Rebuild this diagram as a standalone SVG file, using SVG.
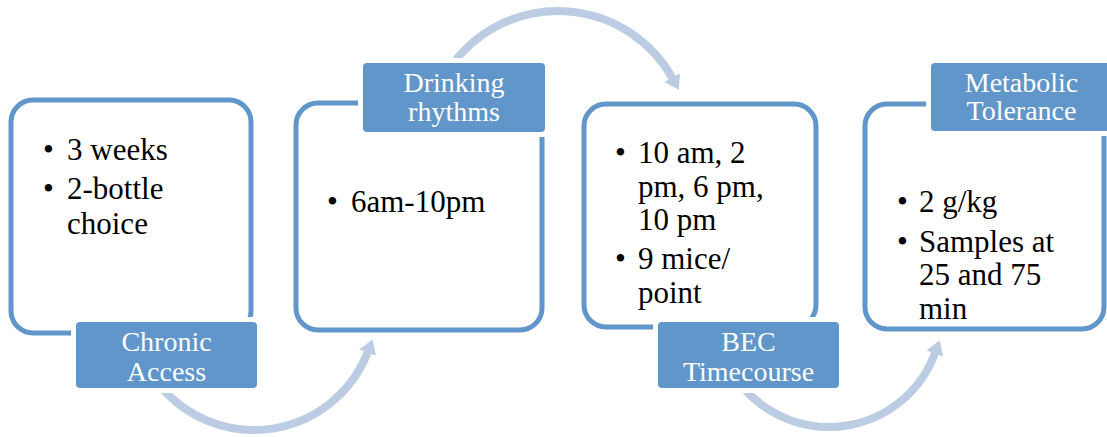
<svg xmlns="http://www.w3.org/2000/svg" width="1107" height="437" viewBox="0 0 1107 437">
<style>
.box{fill:#fff;stroke:#6196CA;stroke-width:5}
.lblbg{fill:#fff}
.lbl{fill:#6196CA}
.lt{font-family:'Liberation Serif','Times New Roman',serif;font-size:28px;fill:#fff;text-anchor:middle}
.bt{font-family:'Liberation Serif','Times New Roman',serif;font-size:31px;fill:#000}
.arc{fill:none;stroke:#BCCCE3;stroke-width:8;marker-end:url(#ah)}
</style>
<defs>
<marker id="ah" viewBox="0 -10 15 20" markerWidth="15" markerHeight="20" refX="1" refY="0" orient="auto" markerUnits="userSpaceOnUse">
<path d="M0,-9 L14,0 L0,9 z" fill="#BCCCE3"/>
</marker>
</defs>
<g id="connectors">
<path class="arc" d="M160.5,386.4 A122,122 0 0 0 367.9,351.7"/>
<path class="arc" d="M450.7,66.9 A131,131 0 0 1 672.6,78.5"/>
<path class="arc" d="M742.4,386.6 A113,113 0 0 0 935.2,352.6"/>
</g>
<g id="chronic-access">
<rect class="box" x="11" y="100" width="240" height="233" rx="22"/>
<rect class="lblbg" x="71" y="317" width="191" height="76" rx="6"/>
<rect class="lbl" x="76" y="322" width="181" height="66" rx="4"/>
<text class="lt" x="166.5" y="351">Chronic</text>
<text class="lt" x="166.5" y="381">Access</text>
<text class="bt" x="43" y="160">•</text>
<text class="bt" x="67" y="160">3 weeks</text>
<text class="bt" x="43" y="199">•</text>
<text class="bt" x="67" y="199">2-bottle</text>
<text class="bt" x="67" y="234">choice</text>
</g>
<g id="drinking-rhythms">
<rect class="box" x="296" y="103" width="246" height="227" rx="22"/>
<rect class="lblbg" x="358" y="58" width="192" height="79" rx="6"/>
<rect class="lbl" x="363" y="63" width="182" height="69" rx="4"/>
<text class="lt" x="454" y="92">Drinking</text>
<text class="lt" x="454" y="121">rhythms</text>
<text class="bt" x="327" y="212">•</text>
<text class="bt" x="351" y="212">6am-10pm</text>
</g>
<g id="bec-timecourse">
<rect class="box" x="584" y="104" width="232" height="223" rx="22"/>
<rect class="lblbg" x="653" y="317" width="191" height="76" rx="6"/>
<rect class="lbl" x="658" y="322" width="181" height="66" rx="4"/>
<text class="lt" x="748.5" y="351">BEC</text>
<text class="lt" x="748.5" y="381">Timecourse</text>
<text class="bt" x="615" y="163">•</text>
<text class="bt" x="638" y="163">10 am, 2</text>
<text class="bt" x="638" y="197">pm, 6 pm,</text>
<text class="bt" x="638" y="230">10 pm</text>
<text class="bt" x="615" y="269">•</text>
<text class="bt" x="638" y="269">9 mice/</text>
<text class="bt" x="638" y="303">point</text>
</g>
<g id="metabolic-tolerance">
<rect class="box" x="865" y="104" width="239" height="225" rx="22"/>
<rect class="lblbg" x="926" y="58" width="191" height="78" rx="6"/>
<rect class="lbl" x="931" y="63" width="181" height="68" rx="4"/>
<text class="lt" x="1021.5" y="92">Metabolic</text>
<text class="lt" x="1021.5" y="120">Tolerance</text>
<text class="bt" x="897" y="212">•</text>
<text class="bt" x="919" y="212">2 g/kg</text>
<text class="bt" x="897" y="252">•</text>
<text class="bt" x="919" y="252">Samples at</text>
<text class="bt" x="919" y="285">25 and 75</text>
<text class="bt" x="919" y="319">min</text>
</g>
</svg>
